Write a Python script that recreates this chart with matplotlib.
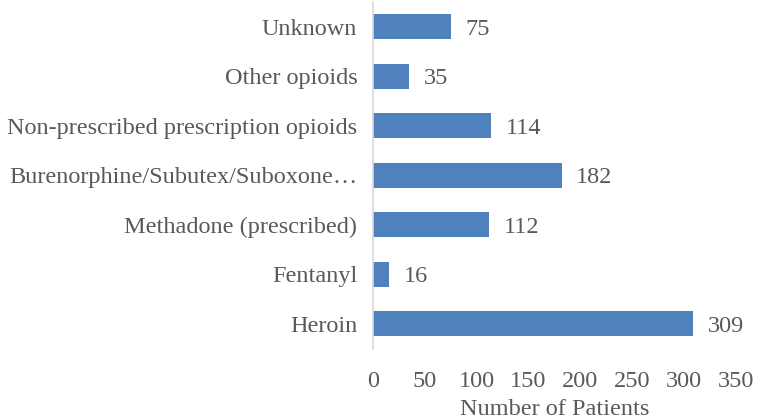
import matplotlib
matplotlib.use('Agg')
import matplotlib.pyplot as plt

# data (bottom to top)
categories = ['Heroin', 'Fentanyl', 'Methadone (prescribed)',
              'Burenorphine/Subutex/Suboxone\u2026',
              'Non-prescribed prescription opioids', 'Other opioids', 'Unknown']
patients = [309, 16, 112, 182, 114, 35, 75]
x_ticks = [0, 50, 100, 150, 200, 250, 300, 350]

BAR_COLOR = '#4F81BD'
TEXT_COLOR = '#595959'

plt.rcParams['font.family'] = ['Liberation Serif', 'DejaVu Serif']
plt.rcParams['font.size'] = 17.5

fig = plt.figure(figsize=(7.57, 4.2), dpi=100)
ax = fig.add_axes([0.4923, 0.170, 0.4800, 0.825])

ypos = list(range(len(categories)))
ax.barh(ypos, patients, height=0.5, color=BAR_COLOR)

# value labels to the right of each bar
for y, v in zip(ypos, patients):
    ax.text(v + 14, y, str(v), va='center_baseline', ha='left', color=TEXT_COLOR)

ax.set_yticks(ypos)
ax.set_yticklabels(categories, color=TEXT_COLOR, va='center_baseline')
ax.set_xticks(x_ticks)
ax.set_xticklabels([str(t) for t in x_ticks], color=TEXT_COLOR)
ax.set_xlim(0, 350)
ax.set_ylim(-0.5, len(categories) - 0.5)
ax.set_xlabel('Number of Patients', color=TEXT_COLOR, labelpad=5)

for side in ['top', 'right', 'bottom']:
    ax.spines[side].set_visible(False)
ax.spines['left'].set_color('#D9D9D9')
ax.spines['left'].set_linewidth(1.2)
ax.tick_params(axis='both', length=0)
ax.tick_params(axis='x', pad=16)
ax.tick_params(axis='y', pad=11)

fig.savefig('out.png', dpi=100)
